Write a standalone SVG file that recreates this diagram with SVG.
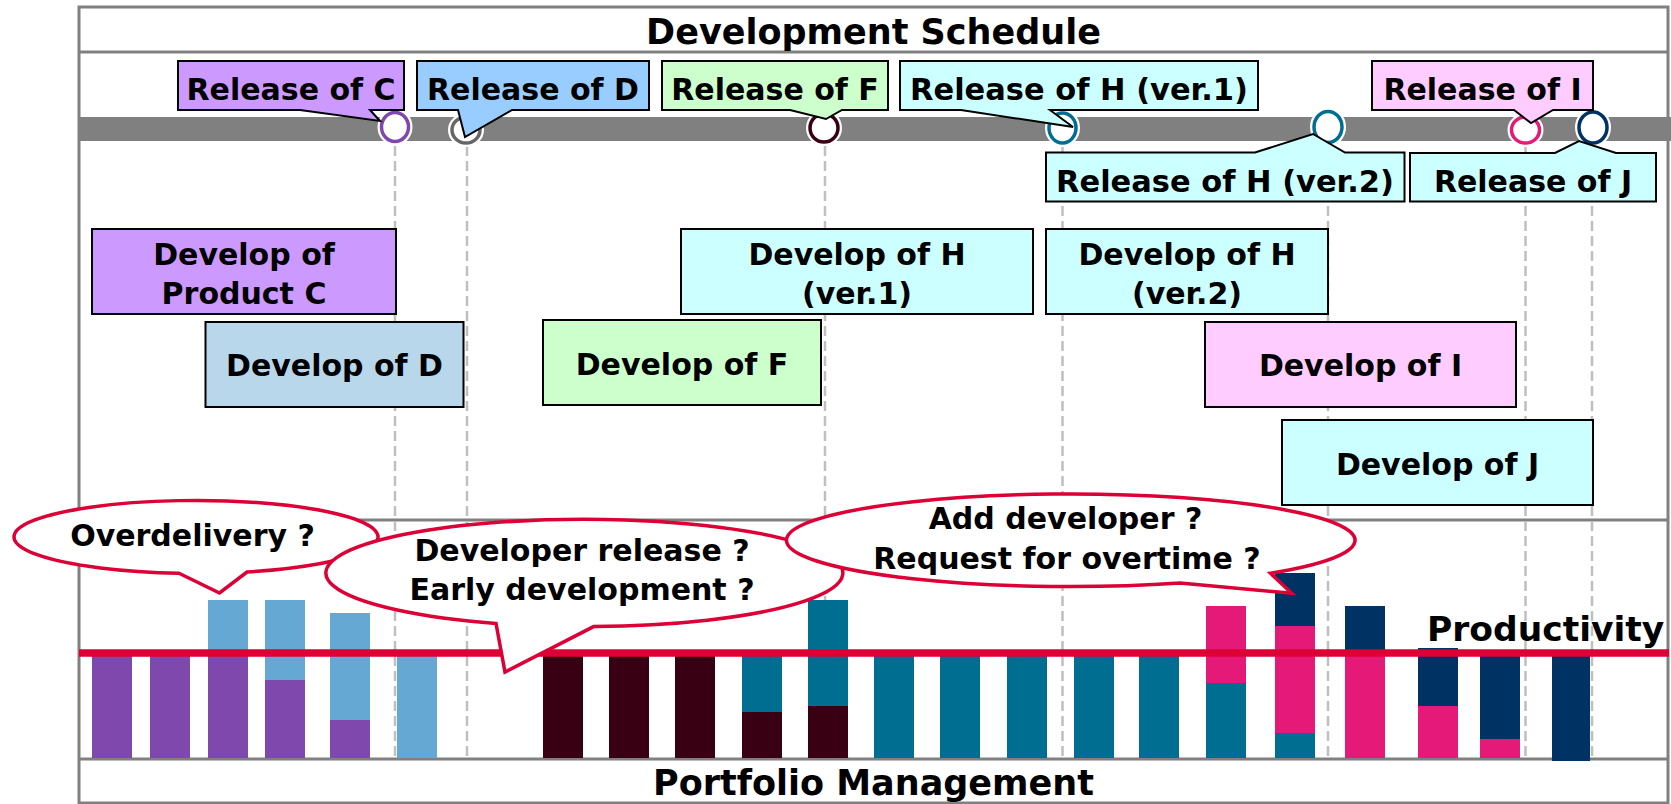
<svg xmlns="http://www.w3.org/2000/svg" width="1671" height="804" viewBox="0 0 1671 804">
  <style>
    text { font-family: "DejaVu Sans", Verdana, sans-serif; font-weight: bold; fill: #000; text-anchor: middle; }
    .t30 { font-size: 30px; }
    .t35 { font-size: 35px; }
    .frame { fill: none; stroke: #808080; stroke-width: 3; }
    .box { stroke: #000; stroke-width: 2; }
    .guide { fill: none; stroke: #BFBFBF; stroke-width: 2.5; stroke-dasharray: 10 5; }
    .halo { fill: #fff; stroke: #fff; stroke-width: 8; }
    .ring { fill: #fff; stroke-width: 3.5; }
    .bubble { fill: #fff; stroke: #DC0036; stroke-width: 3.5; stroke-linejoin: miter; }
    .purple { fill: #7F48AC; }
    .lblue { fill: #66A8D4; }
    .maroon { fill: #380012; }
    .teal { fill: #006E90; }
    .pink { fill: #E41978; }
    .navy { fill: #003264; }
  </style>

  <rect width="1671" height="804" fill="#fff"/>

  <!-- frame: title band, schedule area, chart area, footer band -->
  <g id="frame">
    <rect class="frame" x="79" y="7" width="1589" height="796"/>
    <line class="frame" x1="79" y1="52" x2="1668" y2="52"/>
    <line class="frame" x1="79" y1="520" x2="1668" y2="520"/>
    <line class="frame" x1="79" y1="759" x2="1668" y2="759"/>
    <text class="t35" x="873.5" y="44">Development Schedule</text>
    <text class="t35" x="873.5" y="795">Portfolio Management</text>
  </g>

  <!-- timeline bar -->
  <rect id="timeline" x="79" y="117" width="1592" height="24" fill="#808080"/>

  <!-- dashed guides from each release point down to the chart -->
  <g id="connectors">
    <line class="guide" x1="395" y1="146" x2="395" y2="758"/>
    <line class="guide" x1="467" y1="146" x2="467" y2="758"/>
    <line class="guide" x1="825" y1="146" x2="825" y2="758"/>
    <line class="guide" x1="1062.5" y1="146" x2="1062.5" y2="758"/>
    <line class="guide" x1="1328" y1="146" x2="1328" y2="758"/>
    <line class="guide" x1="1525.5" y1="146" x2="1525.5" y2="758"/>
    <line class="guide" x1="1592" y1="146" x2="1592" y2="758"/>
  </g>

  <!-- release milestones -->
  <g id="milestones">
    <g id="ms-c"><ellipse class="halo" cx="395" cy="127" rx="13.5" ry="14.5"/><ellipse class="ring" cx="395" cy="127" rx="13.5" ry="14.5" stroke="#7F48AC"/></g>
    <g id="ms-d"><ellipse class="halo" cx="466" cy="130" rx="14" ry="13"/><ellipse class="ring" cx="466" cy="130" rx="14" ry="13" stroke="#666666"/></g>
    <g id="ms-f"><ellipse class="halo" cx="824" cy="128" rx="14" ry="14"/><ellipse class="ring" cx="824" cy="128" rx="14" ry="14" stroke="#380012"/></g>
    <g id="ms-h1"><ellipse class="halo" cx="1062.5" cy="128" rx="13.5" ry="15"/><ellipse class="ring" cx="1062.5" cy="128" rx="13.5" ry="15" stroke="#006E90"/></g>
    <g id="ms-h2"><ellipse class="halo" cx="1328" cy="127" rx="14" ry="15.5"/><ellipse class="ring" cx="1328" cy="127" rx="14" ry="15.5" stroke="#006E90"/></g>
    <g id="ms-i"><ellipse class="halo" cx="1525.5" cy="130" rx="14" ry="13"/><ellipse class="ring" cx="1525.5" cy="130" rx="14" ry="13" stroke="#E41978"/></g>
    <g id="ms-j"><ellipse class="halo" cx="1593" cy="127.5" rx="14" ry="15.5"/><ellipse class="ring" cx="1593" cy="127.5" rx="14" ry="15.5" stroke="#003264"/></g>
  </g>

  <!-- release callouts -->
  <g id="release-c">
    <path class="box" fill="#CC99FF" d="M178 61 H404 V110 H370 L380 121 L300 110 H178 Z"/>
    <text class="t30" x="291" y="100">Release of C</text>
  </g>
  <g id="release-d">
    <path class="box" fill="#99CCFF" d="M417 61 H649 V110 H512 L465 137 L458 110 H417 Z"/>
    <text class="t30" x="533" y="100">Release of D</text>
  </g>
  <g id="release-f">
    <path class="box" fill="#CCFFCC" d="M662 61 H888 V110 H842 L826 119 L790 110 H662 Z"/>
    <text class="t30" x="775" y="100">Release of F</text>
  </g>
  <g id="release-h1">
    <path class="box" fill="#CCFFFF" d="M900 61 H1258 V110 H1050 L1073 127 L961 110 H900 Z"/>
    <text class="t30" x="1079" y="100" textLength="338" lengthAdjust="spacingAndGlyphs">Release of H (ver.1)</text>
  </g>
  <g id="release-i">
    <path class="box" fill="#FFCCFF" d="M1372 61 H1593 V110 H1553 L1531 123 L1514 110 H1372 Z"/>
    <text class="t30" x="1482.5" y="100">Release of I</text>
  </g>
  <g id="release-h2">
    <path class="box" fill="#CCFFFF" d="M1046 152.5 H1255 L1313 134 L1345 152.5 H1404.5 V201.5 H1046 Z"/>
    <text class="t30" x="1225" y="191.5" textLength="338" lengthAdjust="spacingAndGlyphs">Release of H (ver.2)</text>
  </g>
  <g id="release-j">
    <path class="box" fill="#CCFFFF" d="M1410 153 H1555 L1579 141 L1616 153 H1656 V201.5 H1410 Z"/>
    <text class="t30" x="1533" y="191.5">Release of J</text>
  </g>

  <!-- development tasks -->
  <g id="dev-c">
    <rect class="box" fill="#CC99FF" x="92" y="229" width="304" height="85"/>
    <text class="t30" x="244" y="265">Develop of</text>
    <text class="t30" x="244" y="304">Product C</text>
  </g>
  <g id="dev-d">
    <rect class="box" fill="#B9D7EA" x="205.5" y="322" width="258" height="85"/>
    <text class="t30" x="334.5" y="376">Develop of D</text>
  </g>
  <g id="dev-f">
    <rect class="box" fill="#CCFFCC" x="543" y="320" width="278" height="85"/>
    <text class="t30" x="682" y="375">Develop of F</text>
  </g>
  <g id="dev-h1">
    <rect class="box" fill="#CCFFFF" x="681" y="229" width="352" height="85"/>
    <text class="t30" x="857" y="265">Develop of H</text>
    <text class="t30" x="857" y="304">(ver.1)</text>
  </g>
  <g id="dev-h2">
    <rect class="box" fill="#CCFFFF" x="1046" y="229" width="282" height="85"/>
    <text class="t30" x="1187" y="265">Develop of H</text>
    <text class="t30" x="1187" y="304">(ver.2)</text>
  </g>
  <g id="dev-i">
    <rect class="box" fill="#FFCCFF" x="1205" y="322" width="311" height="85"/>
    <text class="t30" x="1360.5" y="376">Develop of I</text>
  </g>
  <g id="dev-j">
    <rect class="box" fill="#CCFFFF" x="1282" y="420" width="311" height="85"/>
    <text class="t30" x="1437.5" y="475">Develop of J</text>
  </g>

  <!-- stacked workload bars -->
  <g id="bars">
    <rect class="purple" x="92" y="653" width="40" height="105"/>
    <rect class="purple" x="150" y="653" width="40" height="105"/>
    <rect class="lblue" x="208" y="600" width="40" height="53"/>
    <rect class="purple" x="208" y="653" width="40" height="105"/>
    <rect class="lblue" x="265" y="600" width="40" height="80"/>
    <rect class="purple" x="265" y="680" width="40" height="78"/>
    <rect class="lblue" x="330" y="613" width="40" height="107"/>
    <rect class="purple" x="330" y="720" width="40" height="38"/>
    <rect class="lblue" x="397" y="653" width="40" height="105"/>
    <rect class="maroon" x="543" y="653" width="40" height="105"/>
    <rect class="maroon" x="609" y="653" width="40" height="105"/>
    <rect class="maroon" x="675" y="653" width="40" height="105"/>
    <rect class="teal" x="742" y="653" width="40" height="59"/>
    <rect class="maroon" x="742" y="712" width="40" height="46"/>
    <rect class="teal" x="808" y="600" width="40" height="106"/>
    <rect class="maroon" x="808" y="706" width="40" height="52"/>
    <rect class="teal" x="874" y="653" width="40" height="105"/>
    <rect class="teal" x="940" y="653" width="40" height="105"/>
    <rect class="teal" x="1007" y="653" width="40" height="105"/>
    <rect class="teal" x="1074" y="653" width="40" height="105"/>
    <rect class="teal" x="1139" y="653" width="40" height="105"/>
    <rect class="pink" x="1206" y="606" width="40" height="77"/>
    <rect class="teal" x="1206" y="683" width="40" height="75"/>
    <rect class="navy" x="1275" y="573" width="40" height="53"/>
    <rect class="pink" x="1275" y="626" width="40" height="107"/>
    <rect class="teal" x="1275" y="733" width="40" height="25"/>
    <rect class="navy" x="1345" y="606" width="40" height="47"/>
    <rect class="pink" x="1345" y="653" width="40" height="105"/>
    <rect class="navy" x="1418" y="648" width="40" height="58"/>
    <rect class="pink" x="1418" y="706" width="40" height="52"/>
    <rect class="navy" x="1480" y="653" width="40" height="86"/>
    <rect class="pink" x="1480" y="739" width="40" height="19"/>
    <rect class="navy" x="1552" y="653" width="38" height="108"/>
  </g>

  <!-- productivity level -->
  <g id="productivity">
    <line x1="79" y1="653" x2="1669" y2="653" stroke="#DD0035" stroke-width="7.5"/>
    <text x="1427" y="641" style="text-anchor: start; font-size: 34.5px">Productivity</text>
  </g>

  <!-- question bubbles -->
  <g id="bubble-overdelivery">
    <path class="bubble" d="M179 573.3 L219.5 593 L247 572 A182 36.5 0 1 0 179 573.3 Z"/>
    <text class="t30" x="192.5" y="546">Overdelivery ?</text>
  </g>
  <g id="bubble-release">
    <path class="bubble" d="M496 623.4 L505 672 L593.6 626.6 A258.5 53.7 0 1 0 496 623.4 Z"/>
    <text class="t30" x="582" y="561">Developer release ?</text>
    <text class="t30" x="582" y="600">Early development ?</text>
  </g>
  <g id="bubble-add">
    <path class="bubble" d="M1180 583 L1291.7 593.3 L1270.5 573.2 A284.3 46.3 0 1 0 1180 583 Z"/>
    <text class="t30" x="1065.5" y="529">Add developer ?</text>
    <text class="t30" x="1067" y="569">Request for overtime ?</text>
  </g>
</svg>
